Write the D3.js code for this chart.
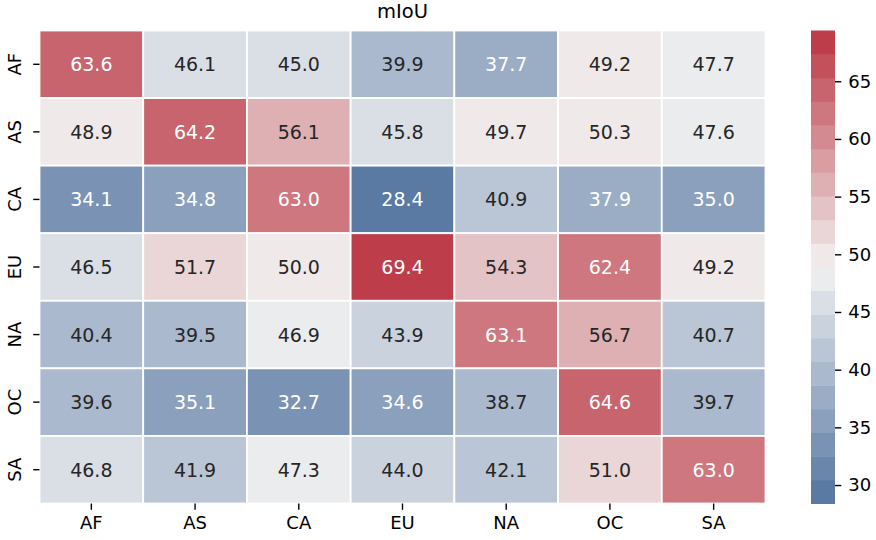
<!DOCTYPE html>
<html>
<head>
<meta charset="utf-8">
<script src="https://cdn.jsdelivr.net/npm/d3@7"></script>
<style>
  body { margin: 0; background: #fff; }
  text { font-family: "DejaVu Sans", sans-serif; }
</style>
</head>
<body>
<div id="plot"></div>
<script>
// regions on both axes
const regions = ["AF", "AS", "CA", "EU", "NA", "OC", "SA"];

// one array per row (train region), columns = test region
const rowAF = [63.6, 46.1, 45.0, 39.9, 37.7, 49.2, 47.7];
const rowAS = [48.9, 64.2, 56.1, 45.8, 49.7, 50.3, 47.6];
const rowCA = [34.1, 34.8, 63.0, 28.4, 40.9, 37.9, 35.0];
const rowEU = [46.5, 51.7, 50.0, 69.4, 54.3, 62.4, 49.2];
const rowNA = [40.4, 39.5, 46.9, 43.9, 63.1, 56.7, 40.7];
const rowOC = [39.6, 35.1, 32.7, 34.6, 38.7, 64.6, 39.7];
const rowSA = [46.8, 41.9, 47.3, 44.0, 42.1, 51.0, 63.0];
const matrix = [rowAF, rowAS, rowCA, rowEU, rowNA, rowOC, rowSA];

const cbarTicks = [30, 35, 40, 45, 50, 55, 60, 65];
const nColors = 20;

const svgWidth = 876, svgHeight = 540;
const svg = d3.select("#plot")
    .append("svg")
    .attr("width", svgWidth)
    .attr("height", svgHeight);

const cells = [];
matrix.forEach(function(row, i) {
    row.forEach(function(v, j) {
        cells.push({ row: regions[i], col: regions[j], value: v });
    });
});

const [vmin, vmax] = d3.extent(cells, d => d.value);

// diverging blue -> light gray -> red, cut into discrete steps
const ramp = d3.piecewise(d3.interpolateRgb, ["#5a7aa3", "#f2f2f2", "#bd3e4a"]);
const palette = d3.range(nColors).map(i => ramp(i / (nColors - 1)));
const color = d3.scaleQuantize().domain([vmin, vmax]).range(palette);

const x = d3.scaleBand().domain(regions).range([39.5, 765.5]);
const y = d3.scaleBand().domain(regions).range([30.5, 503.5]);

function luminance(c) {
    const rgb = d3.rgb(c);
    const lin = [rgb.r, rgb.g, rgb.b].map(function(v) {
        v = v / 255;
        return v <= 0.03928 ? v / 12.92 : Math.pow((v + 0.055) / 1.055, 2.4);
    });
    return 0.2126 * lin[0] + 0.7152 * lin[1] + 0.0722 * lin[2];
}

// cells
svg.append("g")
    .selectAll("rect")
    .data(cells)
    .enter()
    .append("rect")
    .attr("x", d => x(d.col))
    .attr("y", d => y(d.row))
    .attr("width", x.bandwidth())
    .attr("height", y.bandwidth())
    .attr("fill", d => color(d.value))
    .attr("stroke", "#fff")
    .attr("stroke-width", 1.8);

// annotations
svg.append("g")
    .selectAll("text")
    .data(cells)
    .enter()
    .append("text")
    .attr("x", d => x(d.col) + x.bandwidth() / 2)
    .attr("y", d => y(d.row) + y.bandwidth() / 2)
    .attr("text-anchor", "middle")
    .attr("dominant-baseline", "central")
    .attr("font-size", 19)
    .attr("fill", d => luminance(color(d.value)) > 0.408 ? "#262626" : "#fff")
    .text(d => d.value.toFixed(1));

// x axis
const xAxis = svg.append("g")
    .attr("transform", "translate(0,503.5)")
    .call(d3.axisBottom(x).tickSize(6.3).tickPadding(6));
xAxis.select(".domain").remove();
xAxis.selectAll("line").attr("stroke", "#000").attr("stroke-width", 1.4);
xAxis.selectAll("text").attr("font-size", 18).attr("fill", "#000")
    .attr("font-family", "DejaVu Sans");

// y axis, labels rotated
const yAxis = svg.append("g")
    .attr("transform", "translate(39.5,0)")
    .call(d3.axisLeft(y).tickSize(6.3));
yAxis.select(".domain").remove();
yAxis.selectAll("line").attr("stroke", "#000").attr("stroke-width", 1.4);
yAxis.selectAll("text")
    .attr("font-size", 18).attr("fill", "#000")
    .attr("font-family", "DejaVu Sans")
    .attr("x", null).attr("dy", null)
    .attr("text-anchor", "middle")
    .attr("transform", "translate(-19,0) rotate(-90)");

// title
svg.append("text")
    .attr("x", (x.range()[0] + x.range()[1]) / 2)
    .attr("y", 18)
    .attr("text-anchor", "middle")
    .attr("font-size", 19.5)
    .attr("fill", "#000")
    .text("mIoU");

// colorbar
const cbX = 811, cbW = 24;
const cy = d3.scaleLinear().domain([vmin, vmax]).range([503.5, 30.5]);
const step = (vmax - vmin) / nColors;
svg.append("g")
    .selectAll("rect")
    .data(palette)
    .enter()
    .append("rect")
    .attr("x", cbX)
    .attr("y", (d, i) => cy(vmin + (i + 1) * step))
    .attr("width", cbW)
    .attr("height", (d, i) => cy(vmin + i * step) - cy(vmin + (i + 1) * step) + 0.5)
    .attr("fill", d => d);

const cAxis = svg.append("g")
    .attr("transform", "translate(" + (cbX + cbW) + ",0)")
    .call(d3.axisRight(cy).tickValues(cbarTicks).tickSize(6.3).tickPadding(7));
cAxis.select(".domain").remove();
cAxis.selectAll("line").attr("stroke", "#000").attr("stroke-width", 1.4);
cAxis.selectAll("text").attr("font-size", 18).attr("fill", "#000")
    .attr("font-family", "DejaVu Sans");
</script>
</body>
</html>
